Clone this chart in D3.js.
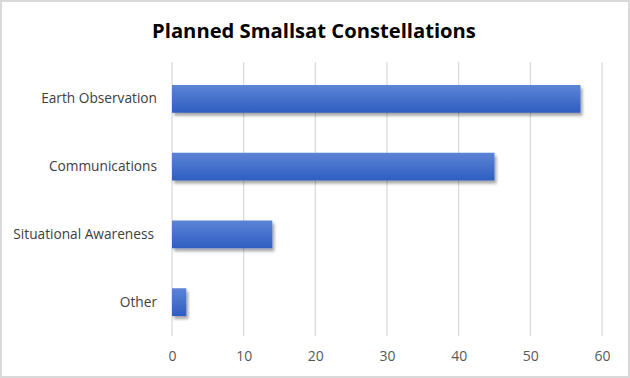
<!DOCTYPE html>
<html>
<head>
<meta charset="utf-8">
<script src="https://cdn.jsdelivr.net/npm/d3@7"></script>
<style>
  body { margin: 0; background: #fff; }
  svg { display: block; }
</style>
</head>
<body>
<svg id="chart" width="630" height="378"></svg>
<script>
// chart data
const categories = ["Earth Observation", "Communications", "Situational Awareness", "Other"];
const values = [57, 45, 14, 2];
const ticks = [0, 10, 20, 30, 40, 50, 60];
const title = "Planned Smallsat Constellations";

const svg = d3.select("#chart");
const W = 630, H = 378;
const margin = { top: 65, right: 28, bottom: 42, left: 172 };

// outer border
svg.append("rect")
  .attr("x", 1).attr("y", 1)
  .attr("width", W - 2).attr("height", H - 2)
  .attr("fill", "#fff")
  .attr("stroke", "#d9d9d9")
  .attr("stroke-width", 2);

const defs = svg.append("defs");
const grad = defs.append("linearGradient")
  .attr("id", "barFill")
  .attr("x1", 0).attr("y1", 0).attr("x2", 0).attr("y2", 1);
grad.append("stop").attr("offset", "0%").attr("stop-color", "#5c84d6");
grad.append("stop").attr("offset", "100%").attr("stop-color", "#2d5ec2");

const shadow = defs.append("filter")
  .attr("id", "shadow")
  .attr("x", "-20%").attr("y", "-30%").attr("width", "140%").attr("height", "170%");
shadow.append("feDropShadow")
  .attr("dx", 2).attr("dy", 3)
  .attr("stdDeviation", 1.8)
  .attr("flood-color", "#000")
  .attr("flood-opacity", 0.35);

const x = d3.scaleLinear()
  .domain([0, 60])
  .range([margin.left, W - margin.right]);

const y = d3.scaleBand()
  .domain(categories)
  .range([margin.top, H - margin.bottom])
  .paddingInner(0.59)
  .paddingOuter(0.295);

// gridlines
svg.append("g")
  .selectAll("line")
  .data(ticks)
  .join("line")
  .attr("x1", d => x(d)).attr("x2", d => x(d))
  .attr("y1", margin.top - 3).attr("y2", H - margin.bottom)
  .attr("stroke", "#d9d9d9")
  .attr("stroke-width", 1.2);

// bars
svg.append("g")
  .selectAll("rect")
  .data(categories)
  .join("rect")
  .attr("x", x(0))
  .attr("y", d => y(d))
  .attr("width", (d, i) => x(values[i]) - x(0))
  .attr("height", y.bandwidth())
  .attr("fill", "url(#barFill)")
  .attr("filter", "url(#shadow)");

// x axis labels
const xAxis = svg.append("g")
  .attr("transform", `translate(0,${H - margin.bottom})`)
  .call(d3.axisBottom(x).tickValues(ticks).tickSize(0).tickPadding(15));
xAxis.select(".domain").remove();
xAxis.selectAll("text")
  .attr("fill", "#595959")
  .style("font-family", "'Open Sans', sans-serif")
  .style("font-size", "14px");

// category labels
const yAxis = svg.append("g")
  .attr("transform", `translate(${margin.left},0)`)
  .call(d3.axisLeft(y).tickSize(0).tickPadding(15));
yAxis.select(".domain").remove();
yAxis.selectAll("text")
  .attr("fill", "#404040")
  .attr("dx", d => d === "Situational Awareness" ? -3 : 0)
  .style("font-family", "'Open Sans', sans-serif")
  .style("font-size", "13.7px");

// title
svg.append("text")
  .attr("x", 314)
  .attr("y", 38)
  .attr("text-anchor", "middle")
  .attr("fill", "#000")
  .style("font-family", "'Open Sans', sans-serif")
  .style("font-weight", "bold")
  .style("font-size", "20.2px")
  .text(title);
</script>
</body>
</html>
